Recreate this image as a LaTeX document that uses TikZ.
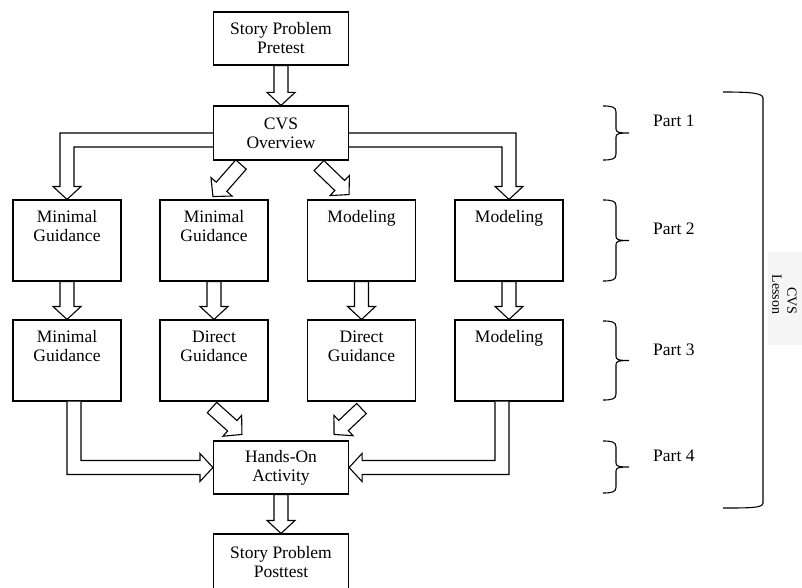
\documentclass[tikz,border=0pt]{standalone}
\usepackage{fontspec}
\setmainfont{Liberation Serif}
\usetikzlibrary{calc}
\tikzset{
  cbox/.style={draw, line width=1.1pt, inner sep=0pt, minimum width=135pt, minimum height=53pt, align=center},
  box/.style={draw, line width=1.1pt, inner sep=0pt, minimum width=108pt, minimum height=81pt},
  barr/.style={draw, fill=white, line width=1.1pt, line join=miter},
  brc/.style={draw, line width=1.1pt},
}
\newcommand\tbx[1]{\parbox[c][81pt][t]{108pt}{\centering\rule{0pt}{22pt}#1}}
\newcommand\barrow[2]{%
  \draw[barr] let \p1=(#1), \p2=(#2), \p3=($(\p2)!13pt!(\p1)$) in
    ($(\p1)!7pt!90:(\p2)$) -- ($(\p3)!7pt!90:(\p2)$) -- ($(\p3)!14pt!90:(\p2)$) -- (\p2)
    -- ($(\p3)!14pt!-90:(\p2)$) -- ($(\p3)!7pt!-90:(\p2)$) -- ($(\p1)!7pt!-90:(\p2)$) -- cycle;}
\newcommand\pbrace[2]{%
  \draw[brc] (603,#1) .. controls (612,#1) and (616,#1+1) .. (616,#1+6)
    -- (616,{(#1+#2)/2-4}) .. controls (616,{(#1+#2)/2-1}) and (618,{(#1+#2)/2}) .. (629,{(#1+#2)/2})
    .. controls (618,{(#1+#2)/2}) and (616,{(#1+#2)/2+1}) .. (616,{(#1+#2)/2+4})
    -- (616,#2-6) .. controls (616,#2-1) and (612,#2) .. (603,#2);}
\begin{document}
\begin{tikzpicture}[x=1pt,y=-1pt,font=\fontsize{17.5pt}{19pt}\selectfont]
\useasboundingbox (0,0) rectangle (802,588);
% faint background behind rotated label
\fill[black!4] (768,252) rectangle (802,345);

% boxes
\node[cbox] (pre) at (281,38.5) {Story Problem\\Pretest};
\node[cbox, minimum height=54pt] (cvs) at (281,133) {CVS\\Overview};
\node[box] (m1) at (67,240.5) {\tbx{Minimal\\Guidance}};
\node[box] (m2) at (214,240.5) {\tbx{Minimal\\Guidance}};
\node[box] (m3) at (361.5,240.5) {\tbx{Modeling}};
\node[box] (m4) at (509,240.5) {\tbx{Modeling}};
\node[box] (n1) at (67,360.5) {\tbx{Minimal\\Guidance}};
\node[box] (n2) at (214,360.5) {\tbx{Direct\\Guidance}};
\node[box] (n3) at (361.5,360.5) {\tbx{Direct\\Guidance}};
\node[box] (n4) at (509,360.5) {\tbx{Modeling}};
\node[cbox] (hands) at (281,467.5) {Hands-On\\Activity};
\node[cbox, minimum height=56pt] (post) at (281,562) {Story Problem\\Posttest};

% straight block arrows
\barrow{pre.south}{cvs.north}
\barrow{m1.south}{n1.north}
\barrow{m2.south}{n2.north}
\barrow{m3.south}{n3.north}
\barrow{m4.south}{n4.north}
\barrow{hands.south}{post.north}
% diagonal block arrows
\barrow{$(cvs.south)+(-40,4)$}{$(cvs.south west)+(0,36)$}
\barrow{$(cvs.south)+(38,5)$}{$(cvs.south east)+(0,34)$}
\barrow{$(n2.south)+(-2,6)$}{$(hands.north west)+(29,-6)$}
\barrow{$(n3.south)+(0,7)$}{$(hands.north east)+(-15,-6)$}

% L-shaped block arrows
\draw[barr] (cvs.west) -- ($(m1.north |- cvs.west)+(-7,0)$) -- ($(m1.north)+(-7,-13)$)
  -- ($(m1.north)+(-14,-13)$) -- (m1.north) -- ($(m1.north)+(14,-13)$) -- ($(m1.north)+(7,-13)$)
  -- ($(m1.north |- cvs.west)+(7,14)$) -- ($(cvs.west)+(0,14)$);
\draw[barr] (cvs.east) -- ($(m4.north |- cvs.east)+(7,0)$) -- ($(m4.north)+(7,-13)$)
  -- ($(m4.north)+(14,-13)$) -- (m4.north) -- ($(m4.north)+(-14,-13)$) -- ($(m4.north)+(-7,-13)$)
  -- ($(m4.north |- cvs.east)+(-7,14)$) -- ($(cvs.east)+(0,14)$);
\draw[barr] (n1.south) -- ($(n1.south |- hands.west)+(0,7)$) -- ($(hands.west)+(-13,7)$)
  -- ($(hands.west)+(-13,14)$) -- (hands.west) -- ($(hands.west)+(-13,-14)$) -- ($(hands.west)+(-13,-7)$)
  -- ($(n1.south |- hands.west)+(14,-7)$) -- ($(n1.south)+(14,0)$);
\draw[barr] (n4.south) -- ($(n4.south |- hands.east)+(0,7)$) -- ($(hands.east)+(13,7)$)
  -- ($(hands.east)+(13,14)$) -- (hands.east) -- ($(hands.east)+(13,-14)$) -- ($(hands.east)+(13,-7)$)
  -- ($(n4.south |- hands.east)+(-14,-7)$) -- ($(n4.south)+(-14,0)$);

% part braces and labels
\pbrace{106}{160}
\pbrace{200}{281}
\pbrace{321}{400}
\pbrace{441}{493}
\node[anchor=base west, inner sep=0pt] (p1) at (653,127) {Part 1};
\node[anchor=base west, inner sep=0pt] (p2) at (653,234.5) {Part 2};
\node[anchor=base west, inner sep=0pt] (p3) at (653,355) {Part 3};
\node[anchor=base west, inner sep=0pt] (p4) at (653,461) {Part 4};

% large bracket
\draw[brc] (723,92) .. controls (750,92) and (763,93) .. (763,98) -- (763,503)
  .. controls (763,508) and (750,508) .. (723,508);
\node[rotate=-90, align=right, inner sep=0pt, font=\fontsize{14pt}{15pt}\selectfont] (lesson) at (784.5,294.5) {CVS\\Lesson};
\end{tikzpicture}
\end{document}
